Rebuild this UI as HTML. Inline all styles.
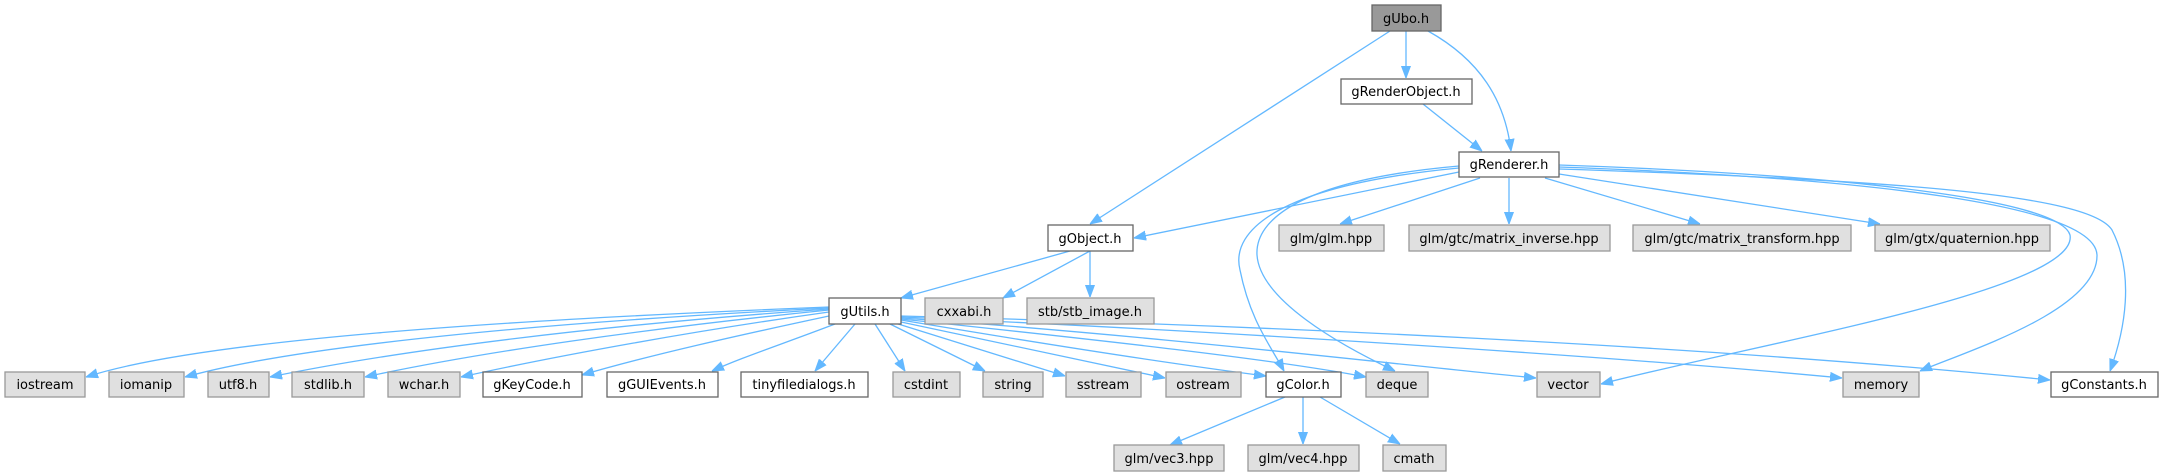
<!DOCTYPE html>
<html><head><meta charset="utf-8"><style>
html,body{margin:0;padding:0;background:#fff;}
svg{display:block;}
text{font-family:"DejaVu Sans","Liberation Sans",sans-serif;font-size:13px;fill:#000;text-anchor:middle;}
.w{fill:#fff;stroke:#666;stroke-width:1.3;}
.g{fill:#e0e0e0;stroke:#999;stroke-width:1.3;}
.r{fill:#999;stroke:#666;stroke-width:1.3;}
.e{fill:none;stroke:#63b8ff;stroke-width:1.3;}
</style></head><body>
<svg width="2164" height="476" viewBox="0 0 2164 476" xmlns="http://www.w3.org/2000/svg">
<defs><marker id="a" viewBox="0 0 12 10" refX="12" refY="5" markerWidth="12" markerHeight="10" markerUnits="userSpaceOnUse" orient="auto"><path d="M0,0.5 L12,5 L0,9.5 Z" fill="#63b8ff" stroke="#63b8ff"/></marker></defs>
<g class="e" marker-end="url(#a)">
<path d="M1406,31 L1406,78"/>
<path d="M1428,31 C1480,60 1505,100 1511,151"/>
<path d="M1390,31 L1090,224"/>
<path d="M1423,104 L1482,151"/>
<path d="M1459,172 L1134,238"/>
<path d="M1480,178 L1340,224"/>
<path d="M1509,178 L1509,224"/>
<path d="M1545,178 L1700,224"/>
<path d="M1559,174 L1880,224"/>
<path d="M1459,168 C1280,185 1230,230 1240,270 C1250,320 1270,345 1284,371"/>
<path d="M1459,166 C1300,180 1255,220 1257,255 C1260,300 1340,345 1395,371"/>
<path d="M1559,165 C1850,175 2060,200 2070,235 C2080,290 1750,345 1601,384"/>
<path d="M1559,167 C1870,178 2095,205 2097,255 C2098,310 1970,350 1920,371"/>
<path d="M1559,169 C1900,180 2090,195 2112,230 C2135,275 2125,330 2110,371"/>
<path d="M1070,251 L901,298"/>
<path d="M1090,251 L1003,298"/>
<path d="M1090,251 L1090,297"/>
<path d="M829,307 C500,320 200,340 86,377"/>
<path d="M829,308 C550,322 300,345 185,377"/>
<path d="M829,309 C600,325 400,350 270,377"/>
<path d="M829,310 C650,328 480,352 365,377"/>
<path d="M829,312 C700,330 560,355 461,377"/>
<path d="M829,316 C740,335 650,355 582,375"/>
<path d="M835,324 C780,345 740,358 712,371"/>
<path d="M855,324 L815,371"/>
<path d="M875,324 L905,371"/>
<path d="M890,324 L985,371"/>
<path d="M895,323 L1065,376"/>
<path d="M901,322 L1165,378"/>
<path d="M901,320 C1050,345 1180,365 1266,376"/>
<path d="M901,319 C1100,340 1280,360 1366,377"/>
<path d="M901,318 C1150,335 1400,365 1536,378"/>
<path d="M901,317 C1200,330 1600,355 1842,378"/>
<path d="M901,316 C1250,325 1700,345 2050,380"/>
<path d="M1285,397 L1170,445"/>
<path d="M1303,397 L1303,444"/>
<path d="M1320,397 L1400,444"/>
</g>
<rect class="r" x="1372" y="5" width="69" height="26"/><text x="1406" y="23">gUbo.h</text>
<rect class="w" x="1341" y="79" width="131" height="25"/><text x="1406" y="96">gRenderObject.h</text>
<rect class="w" x="1459" y="152" width="100" height="25"/><text x="1509" y="169">gRenderer.h</text>
<rect class="w" x="1048" y="225" width="85" height="26"/><text x="1090" y="243">gObject.h</text>
<rect class="g" x="1279" y="225" width="105" height="26"/><text x="1331" y="243">glm/glm.hpp</text>
<rect class="g" x="1409" y="225" width="201" height="26"/><text x="1509" y="243">glm/gtc/matrix_inverse.hpp</text>
<rect class="g" x="1633" y="225" width="218" height="26"/><text x="1742" y="243">glm/gtc/matrix_transform.hpp</text>
<rect class="g" x="1875" y="225" width="175" height="26"/><text x="1962" y="243">glm/gtx/quaternion.hpp</text>
<rect class="w" x="829" y="298" width="72" height="26"/><text x="865" y="316">gUtils.h</text>
<rect class="g" x="925" y="298" width="78" height="26"/><text x="964" y="316">cxxabi.h</text>
<rect class="g" x="1027" y="298" width="127" height="26"/><text x="1090" y="316">stb/stb_image.h</text>
<rect class="g" x="5" y="372" width="80" height="25"/><text x="45" y="389">iostream</text>
<rect class="g" x="109" y="372" width="75" height="25"/><text x="146" y="389">iomanip</text>
<rect class="g" x="208" y="372" width="61" height="25"/><text x="238" y="389">utf8.h</text>
<rect class="g" x="292" y="372" width="72" height="25"/><text x="328" y="389">stdlib.h</text>
<rect class="g" x="388" y="372" width="72" height="25"/><text x="424" y="389">wchar.h</text>
<rect class="w" x="483" y="372" width="99" height="25"/><text x="532" y="389">gKeyCode.h</text>
<rect class="w" x="607" y="372" width="111" height="25"/><text x="662" y="389">gGUIEvents.h</text>
<rect class="w" x="741" y="372" width="127" height="25"/><text x="804" y="389">tinyfiledialogs.h</text>
<rect class="g" x="893" y="372" width="67" height="25"/><text x="926" y="389">cstdint</text>
<rect class="g" x="983" y="372" width="60" height="25"/><text x="1013" y="389">string</text>
<rect class="g" x="1066" y="372" width="75" height="25"/><text x="1103" y="389">sstream</text>
<rect class="g" x="1166" y="372" width="75" height="25"/><text x="1203" y="389">ostream</text>
<rect class="w" x="1266" y="372" width="75" height="25"/><text x="1303" y="389">gColor.h</text>
<rect class="g" x="1366" y="372" width="62" height="25"/><text x="1397" y="389">deque</text>
<rect class="g" x="1537" y="372" width="63" height="25"/><text x="1568" y="389">vector</text>
<rect class="g" x="1843" y="372" width="76" height="25"/><text x="1881" y="389">memory</text>
<rect class="w" x="2051" y="372" width="107" height="25"/><text x="2104" y="389">gConstants.h</text>
<rect class="g" x="1114" y="445" width="110" height="26"/><text x="1169" y="463">glm/vec3.hpp</text>
<rect class="g" x="1248" y="445" width="111" height="26"/><text x="1303" y="463">glm/vec4.hpp</text>
<rect class="g" x="1383" y="445" width="63" height="26"/><text x="1414" y="463">cmath</text>
</svg>
</body></html>
